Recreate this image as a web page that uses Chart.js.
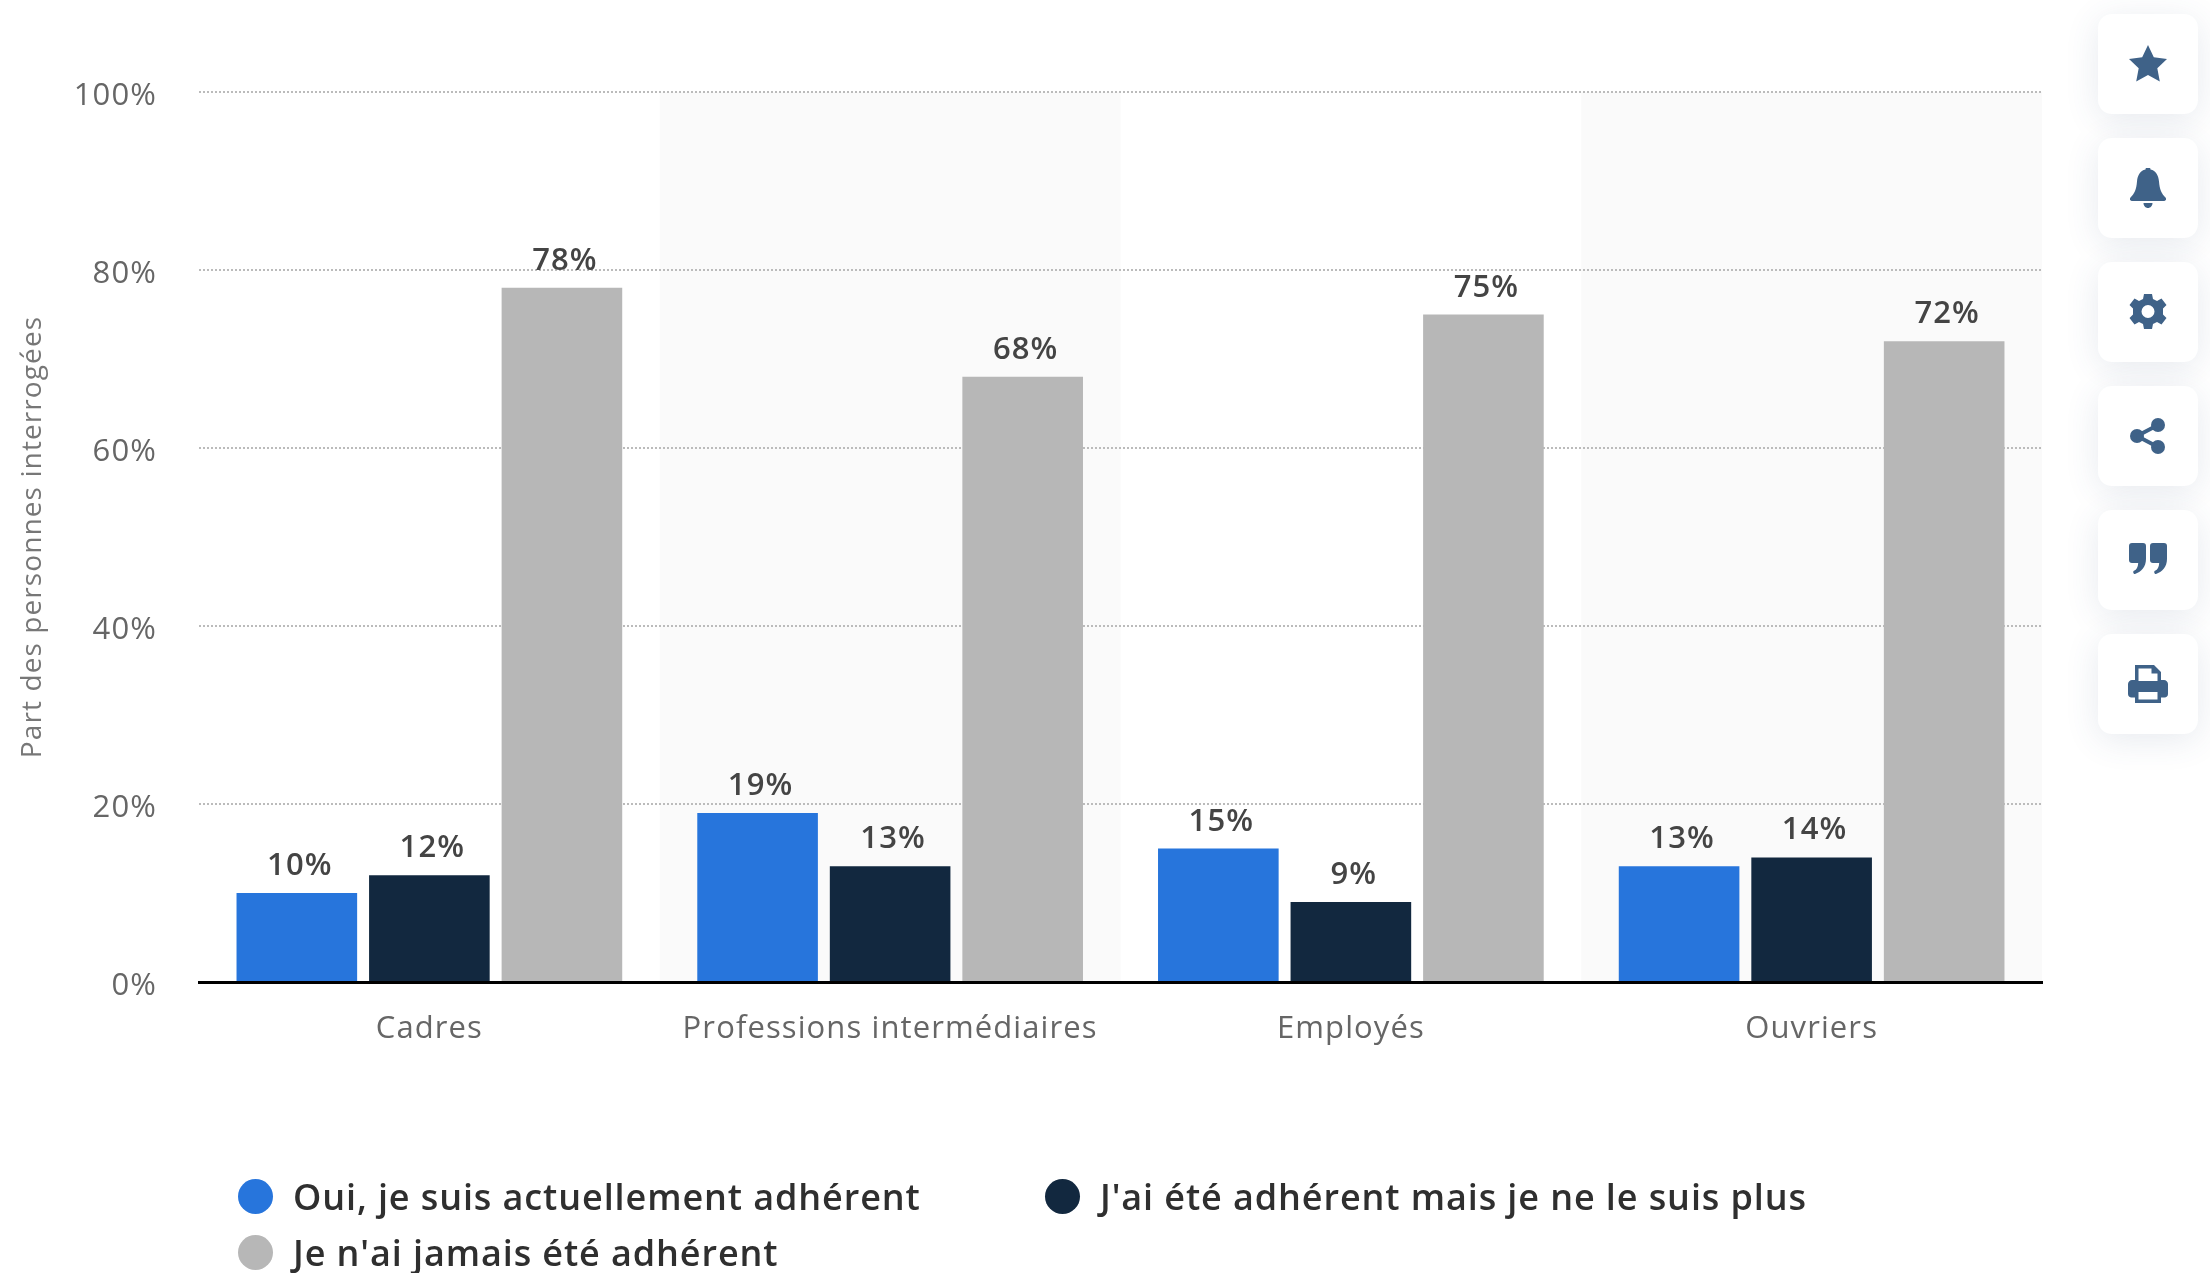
<!DOCTYPE html>
<html lang="fr">
<head>
<meta charset="utf-8">
<title>Adhésion syndicale par catégorie</title>
<script src="https://cdn.jsdelivr.net/npm/chart.js@4/dist/chart.umd.min.js"></script>
<style>
  html, body { margin: 0; padding: 0; background: #fff; overflow: hidden; }
  #wrap { position: relative; width: 2210px; height: 1273px; }
  #chart { position: absolute; left: 0; top: 0; }
  .legend-item {
    position: absolute; display: flex; align-items: center; white-space: nowrap;
    font: 600 36px "Open Sans", sans-serif; color: #2f2f2f; height: 40px; letter-spacing: 0.9px;
  }
  .legend-dot { width: 35px; height: 35px; border-radius: 50%; margin-right: 20px; flex: none; }
  .tool {
    position: absolute; left: 2098px; width: 100px; height: 100px; border-radius: 14px;
    background: #fff; box-shadow: 0 6px 34px rgba(60, 85, 120, 0.12);
  }
  .tool svg { position: absolute; left: 30px; top: 30px; width: 40px; height: 40px; fill: #3f6288; }
</style>
</head>
<body>
<div id="wrap">
  <canvas id="chart" width="2210" height="1273"></canvas>
  <div id="legend"></div>

  <div class="tool" style="top:14px"><svg viewBox="0 0 40 40"><path d="M20 1l5.800 12.200 13.200 1.800-9.700 9.200 2.500 13.300L20 31l-11.800 6.500 2.500-13.300L1 15l13.200-1.800z"/></svg></div>
  <div class="tool" style="top:138px"><svg viewBox="0 0 40 40"><path d="M20-1c1.600 0 2.500 1 2.500 2.600 5.500 1.200 8 6 8.500 12 .6 8 2.500 12 6.500 16 1.200 1.300.5 3.400-1.400 3.400H3.900c-1.900 0-2.600-2.100-1.400-3.400 4-4 5.900-8 6.500-16 .5-6 3-10.800 8.500-12C17.500 0 18.400-1 20-1zM15.500 35h9c0 2.800-2 5-4.500 5s-4.500-2.200-4.500-5z"/></svg></div>
  <div class="tool" style="top:262px"><svg viewBox="0 0 40 40"><path fill-rule="evenodd" d="M16 2h8l1 5 4 2 4.500-2.500 5 6.500-3.500 3.500v6l3.500 3.500-5 6.500L29 30l-4 2-1 5h-8l-1-5-4-2-4.500 2.500-5-6.500L5 22.500v-6L1.500 13l5-6.500L11 9l4-2zM20 13a6.500 6.500 0 100 13 6.500 6.500 0 000-13z"/></svg></div>
  <div class="tool" style="top:386px"><svg viewBox="0 0 40 40"><circle cx="9" cy="20" r="7"/><circle cx="30" cy="9" r="7"/><circle cx="30" cy="31" r="7"/><path d="M9 20L30 9M9 20l21 11" stroke="#3f6288" stroke-width="4"/></svg></div>
  <div class="tool" style="top:510px"><svg viewBox="0 0 40 40"><path d="M4 3h11c2 0 3 1 3 3v13c0 8-5 13-11 15-1.500.4-2.500-2.400-1-3.200 2.600-1.200 4-3.500 4.200-7.800H4c-2 0-3-1-3-3V6c0-2 1-3 3-3zM25 3h11c2 0 3 1 3 3v13c0 8-5 13-11 15-1.500.4-2.500-2.400-1-3.200 2.600-1.200 4-3.500 4.200-7.800H25c-2 0-3-1-3-3V6c0-2 1-3 3-3z"/></svg></div>
  <div class="tool" style="top:634px"><svg viewBox="0 0 40 40"><path fill-rule="evenodd" d="M7 1h19l7 7v8h3c2 0 4 2 4 4v10c0 2-1.500 3.500-3.500 3.500H33V39H7v-5.500H3.500C1.500 33.500 0 32 0 30V20c0-2 2-4 4-4h3zM10.500 4.500V17h19V9.500h-6v-5zM10.500 28v7.500h19V28z"/></svg></div>
</div>

<script>
'use strict';

const CATEGORIES = ['Cadres', 'Professions intermédiaires', 'Employés', 'Ouvriers'];

const OUI_ACTUEL = [10, 19, 15, 13];
const ANCIEN = [12, 13, 9, 14];
const JAMAIS = [78, 68, 75, 72];

const SERIES_LABELS = [
  'Oui, je suis actuellement adhérent',
  "J'ai été adhérent mais je ne le suis plus",
  "Je n'ai jamais été adhérent",
];
const SERIES_COLORS = ['#2775dc', '#12283f', '#b7b7b7'];

const AXIS_TITLE = 'Part des personnes interrogées';
const FONT = '"Open Sans", sans-serif';

// bandes grises une categorie sur deux
// (le letterSpacing se pose ici: redimensionner le canvas remet le contexte a zero)
const zebraPlugin = {
  id: 'zebra',
  beforeDraw(chart) {
    const { ctx, chartArea: a, scales: { x } } = chart;
    const step = a.width / CATEGORIES.length;
    ctx.letterSpacing = '1.1px';
    ctx.save();
    ctx.fillStyle = '#fafafa';
    CATEGORIES.forEach((_, i) => {
      if (i % 2 === 1) ctx.fillRect(x.getPixelForValue(i) - step / 2, a.top, step, a.height);
    });
    ctx.restore();
  },
};

// valeurs au dessus des barres
const valueLabels = {
  id: 'valueLabels',
  afterDatasetsDraw(chart) {
    const { ctx } = chart;
    ctx.save();
    ctx.font = '600 31px ' + FONT;
    ctx.fillStyle = '#444';
    ctx.textAlign = 'center';
    ctx.textBaseline = 'alphabetic';
    chart.data.datasets.forEach((ds, d) => {
      chart.getDatasetMeta(d).data.forEach((bar, i) => {
        ctx.fillText(ds.data[i] + '%', bar.x + 3, bar.y - 18);
      });
    });
    ctx.restore();
  },
};

const chart = new Chart(document.getElementById('chart'), {
  type: 'bar',
  data: {
    labels: CATEGORIES,
    datasets: [OUI_ACTUEL, ANCIEN, JAMAIS].map((data, i) => ({
      label: SERIES_LABELS[i],
      data,
      backgroundColor: SERIES_COLORS[i],
      categoryPercentage: 0.863,
      barPercentage: 0.91,
    })),
  },
  options: {
    responsive: false,
    animation: false,
    layout: { padding: { top: 92, right: 168, bottom: 0, left: 0 } },
    plugins: { legend: { display: false }, tooltip: { enabled: false } },
    scales: {
      x: {
        grid: { display: false },
        border: { color: '#000', width: 3 },
        ticks: { color: '#666', font: { family: FONT, size: 31 }, padding: 21, maxRotation: 0 },
        afterFit: s => { s.height = 291; },
      },
      y: {
        min: 0,
        max: 100,
        grid: { color: '#bbb', lineWidth: 2, drawTicks: false },
        border: { display: false, dash: [2, 2] },
        title: {
          display: true,
          text: AXIS_TITLE,
          color: '#777',
          font: { family: FONT, size: 28 },
          padding: { top: 16, bottom: 0 },
        },
        ticks: {
          stepSize: 20,
          color: '#666',
          font: { family: FONT, size: 31 },
          padding: 42,
          labelOffset: 4,
          callback: v => v + '%',
        },
        afterFit: s => { s.width = 199; },
      },
    },
  },
  plugins: [zebraPlugin, valueLabels],
});

// legende en html, deux colonnes comme sur l'original
const LEGEND_SPOTS = [[238, 1176], [1045, 1176], [238, 1232]];
const legendBox = document.getElementById('legend');
chart.data.datasets.forEach((ds, i) => {
  const item = document.createElement('div');
  item.className = 'legend-item';
  item.style.left = LEGEND_SPOTS[i][0] + 'px';
  item.style.top = LEGEND_SPOTS[i][1] + 'px';
  item.innerHTML = '<span class="legend-dot" style="background:' + ds.backgroundColor + '"></span>';
  item.appendChild(document.createTextNode(ds.label));
  legendBox.appendChild(item);
});
</script>
</body>
</html>
